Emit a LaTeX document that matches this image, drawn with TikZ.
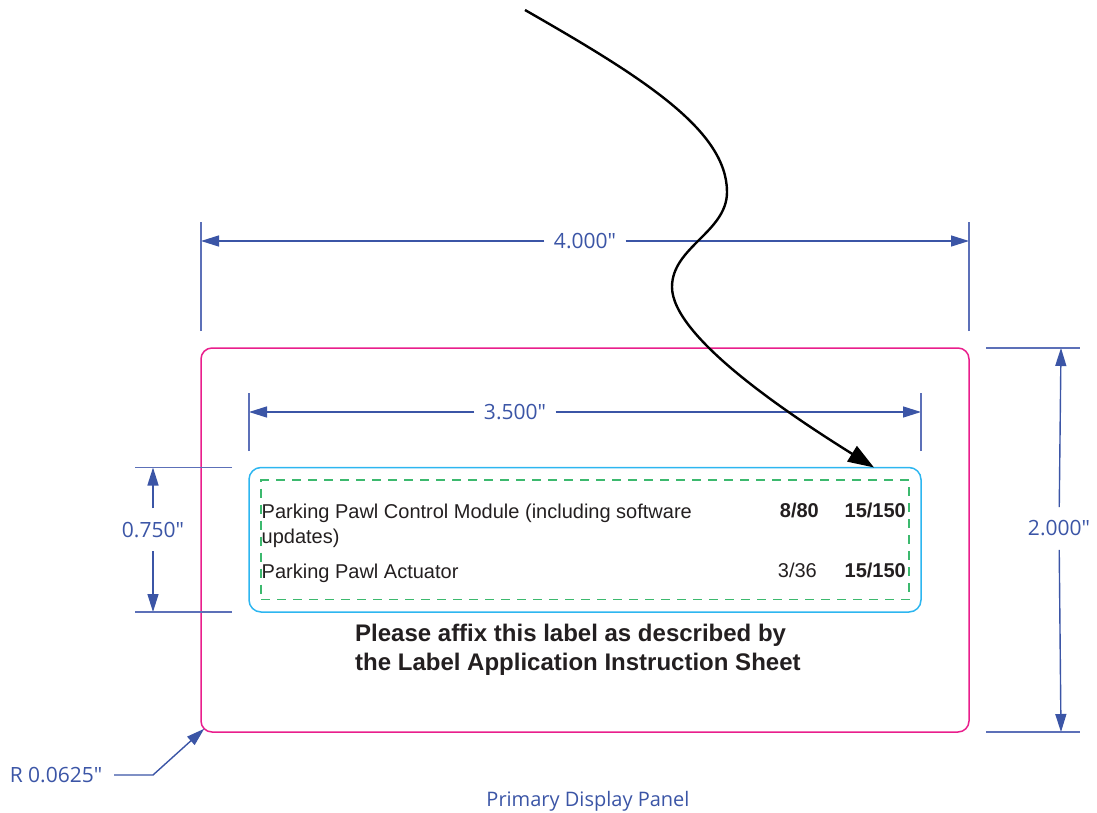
\documentclass[tikz,border=0pt]{standalone}
\usepackage{fontspec}
\setmainfont{Liberation Sans}
\newfontfamily\dimfont{Open Sans}
\usetikzlibrary{arrows.meta,calc}
\definecolor{dimblue}{RGB}{59,85,166}
\definecolor{extblue}{RGB}{92,112,184}
\definecolor{panelmag}{RGB}{233,30,140}
\definecolor{labelcyan}{RGB}{45,182,240}
\definecolor{safegreen}{RGB}{60,185,110}
\definecolor{inkblack}{RGB}{35,31,32}
\begin{document}
\begin{tikzpicture}[x=1pt,y=-1pt,
  panelbox/.style={draw=panelmag, line width=1.5pt, rounded corners=11pt, inner sep=0pt, outer sep=0pt},
  labelbox/.style={draw=labelcyan, line width=1.5pt, rounded corners=12pt, inner sep=0pt, outer sep=0pt},
  safebox/.style={draw=safegreen, line width=1.4pt, dash pattern=on 9pt off 7pt, inner sep=0pt, outer sep=0pt},
  dimline/.style={draw=dimblue, line width=1.4pt, -{Triangle[length=18pt,width=11pt]}},
  extline/.style={draw=extblue, line width=1.4pt},
  dimlbl/.style={text=dimblue, font=\dimfont\fontsize{21}{25}\selectfont, inner xsep=9.5pt, inner ysep=13.5pt, outer sep=0pt},
  dimlblR/.style={text=dimblue, font=\dimfont\fontsize{21}{25}\selectfont, inner xsep=12pt, inner ysep=4pt, outer sep=0pt},
  captxt/.style={text=dimblue, font=\dimfont\fontsize{20}{24}\selectfont, inner sep=0pt},
  tabtxt/.style={text=inkblack, font=\fontsize{20}{24}\selectfont, inner sep=0pt},
  tabbold/.style={text=inkblack, font=\fontsize{20}{24}\selectfont\bfseries, inner sep=0pt},
  notetxt/.style={text=inkblack, font=\fontsize{24}{29}\selectfont\bfseries, inner sep=0pt},
  pawlcurve/.style={draw=black, line width=2.4pt, -{Triangle[length=26pt,width=18pt]}}
]
\useasboundingbox (0,0) rectangle (1097,813);

% boxes
\node[panelbox, minimum width=768pt, minimum height=384pt] (panel) at (585,540) {};
\node[labelbox, minimum width=672pt, minimum height=144.5pt] (lbox) at (585,539.75) {};
\node[safebox, minimum width=648pt, minimum height=119.5pt] (safe) at (585,539.75) {};

% 4.000" dimension
\coordinate (d4a) at ([yshift=107pt]panel.north west);
\coordinate (d4b) at ([yshift=107pt]panel.north east);
\node[dimlbl] (d4) at ($(d4a)!0.5!(d4b)$) {4.000"};
\draw[dimline] (d4) -- (d4a);
\draw[dimline] (d4) -- (d4b);
\draw[extline] ([yshift=17pt]panel.north west) -- ([yshift=126pt]panel.north west);
\draw[extline] ([yshift=17pt]panel.north east) -- ([yshift=126pt]panel.north east);

% 3.500" dimension
\coordinate (d3a) at ([yshift=55.5pt]lbox.north west);
\coordinate (d3b) at ([yshift=55.5pt]lbox.north east);
\node[dimlbl] (d3) at ([xshift=-70pt]$(d3a)!0.5!(d3b)$) {3.500"};
\draw[dimline] (d3) -- (d3a);
\draw[dimline] (d3) -- (d3b);
\draw[extline] ([yshift=16.5pt]lbox.north west) -- ([yshift=74.5pt]lbox.north west);
\draw[extline] ([yshift=16.5pt]lbox.north east) -- ([yshift=74.5pt]lbox.north east);

% 0.750" dimension
\coordinate (d7a) at ([xshift=-96pt]lbox.north west);
\coordinate (d7b) at ([xshift=-96pt]lbox.south west);
\node[dimlbl] (d7) at ([yshift=10pt]$(d7a)!0.5!(d7b)$) {0.750"};
\draw[dimline] (d7) -- (d7a);
\draw[dimline] (d7) -- (d7b);
\draw[extline] ([xshift=-17pt]lbox.north west) -- ([xshift=-114pt]lbox.north west);
\draw[extline] ([xshift=-17pt]lbox.south west) -- ([xshift=-114pt]lbox.south west);

% 2.000" dimension
\coordinate (d2a) at ([xshift=92pt]panel.north east);
\coordinate (d2b) at ([xshift=92pt]panel.south east);
\node[dimlbl] (d2) at ([shift={(-2pt,11.5pt)}]$(d2a)!0.5!(d2b)$) {2.000"};
\draw[dimline] (d2) -- (d2a);
\draw[dimline] (d2) -- (d2b);
\draw[extline] ([xshift=17pt]panel.north east) -- ([xshift=111pt]panel.north east);
\draw[extline] ([xshift=17pt]panel.south east) -- ([xshift=111pt]panel.south east);

% corner radius callout
\node[dimlblR] (rlbl) at (56,775) {R 0.0625"};
\coordinate (rbend) at (153,775);
\coordinate (rtip) at ([shift={(3.2pt,3.2pt)}]panel.south west);
\draw[dimline] (rlbl) -- (rbend) -- (rtip);

% label contents
\node[tabtxt, anchor=base west] (t1) at (261.5,518) {Parking Pawl Control Module (including software};
\node[tabtxt, anchor=base west] (t1b) at (261.5,543) {updates)};
\node[tabtxt, anchor=base west] (t2) at (261.5,578) {Parking Pawl Actuator};
\node[tabbold, anchor=base east] (n1a) at (819,517.5) {8/80};
\node[tabbold, anchor=base east] (n1b) at (906,517.5) {15/150};
\node[tabtxt, anchor=base east] (n2a) at (817,577.5) {3/36};
\node[tabbold, anchor=base east] (n2b) at (906,577.5) {15/150};

% instruction note
\node[notetxt, anchor=base west] (note1) at (355,641) {Please affix this label as described by};
\node[notetxt, anchor=base west] (note2) at (355,670) {the Label Application Instruction Sheet};

% caption
\node[captxt, anchor=base] (pdp) at (588,806) {Primary Display Panel};

% pointer curve
\coordinate (cstart) at (525,10);
\coordinate (ctip) at ([xshift=-47pt]lbox.north east);
\draw[pawlcurve] (cstart) .. controls (642,77) and (727,130) .. (727,192)
  .. controls (727,232) and (672,247) .. (672,287)
  .. controls (672,337) and (790,415) .. (ctip);
\end{tikzpicture}
\end{document}
